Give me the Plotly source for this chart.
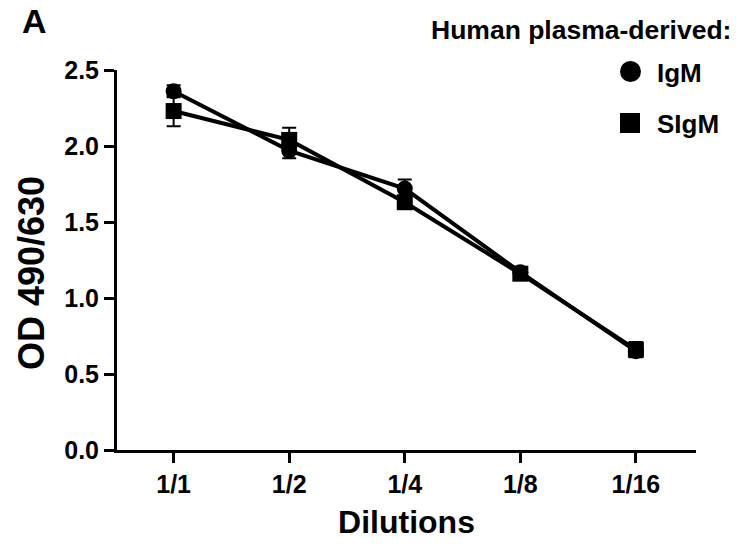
import plotly.graph_objects as go

# Dilution series and measured optical densities (mean ± SEM)
dilutions = ["1/1", "1/2", "1/4", "1/8", "1/16"]
igm_od = [2.36, 1.97, 1.72, 1.17, 0.65]
igm_err = [0.04, 0.05, 0.06, 0.02, 0.03]
sigm_od = [2.23, 2.04, 1.63, 1.16, 0.66]
sigm_err = [0.10, 0.08, 0.03, 0.02, 0.05]

y_ticks = [0.0, 0.5, 1.0, 1.5, 2.0, 2.5]

FONT = "Liberation Sans, Arial, sans-serif"
BLACK = "#000000"

# plot area in pixels: x 117..696, y 70..450
PX_L, PX_R, PX_T, PX_B = 117, 696, 70, 450


def px_x(x):
    return (x - PX_L) / (PX_R - PX_L)


def px_y(y):
    return (PX_B - y) / (PX_B - PX_T)


fig = go.Figure()

series = [
    ("IgM", igm_od, igm_err, "circle"),
    ("SIgM", sigm_od, sigm_err, "square"),
]
for name, vals, errs, symbol in series:
    fig.add_trace(go.Scatter(
        x=dilutions, y=vals, name=name, mode="lines+markers",
        line=dict(color=BLACK, width=4),
        marker=dict(symbol=symbol, size=16, color=BLACK),
        error_y=dict(type="data", array=errs, visible=True,
                     color=BLACK, thickness=2, width=7),
        showlegend=False,
    ))

# Hand-drawn legend at the top right
fig.add_shape(type="circle", xref="paper", yref="paper",
              x0=px_x(620), x1=px_x(641), y0=px_y(82), y1=px_y(61),
              fillcolor=BLACK, line=dict(color=BLACK, width=0))
fig.add_shape(type="rect", xref="paper", yref="paper",
              x0=px_x(620), x1=px_x(640), y0=px_y(133), y1=px_y(113),
              fillcolor=BLACK, line=dict(color=BLACK, width=0))
for label, ypx in (("IgM", 73), ("SIgM", 124)):
    fig.add_annotation(text="<b>%s</b>" % label, xref="paper", yref="paper",
                       x=px_x(655), y=px_y(ypx),
                       xanchor="left", yanchor="middle", showarrow=False,
                       font=dict(family=FONT, size=26, color=BLACK))

fig.add_annotation(text="<b>Human plasma-derived:</b>", xref="paper", yref="paper",
                   x=px_x(733), y=px_y(30),
                   xanchor="right", yanchor="middle", showarrow=False,
                   font=dict(family=FONT, size=26.5, color=BLACK))
fig.add_annotation(text="<b>A</b>", xref="paper", yref="paper",
                   x=px_x(20), y=px_y(21),
                   xanchor="left", yanchor="middle", showarrow=False,
                   font=dict(family=FONT, size=34, color=BLACK))

# Vertical y-axis title
fig.add_annotation(text="<b>OD 490/630</b>", xref="paper", yref="paper",
                   x=px_x(31), y=px_y(273), textangle=-90,
                   xanchor="center", yanchor="middle", showarrow=False,
                   font=dict(family=FONT, size=36, color=BLACK))

fig.update_layout(
    width=736, height=545,
    margin=dict(l=PX_L, r=736 - PX_R, t=PX_T, b=545 - PX_B),
    paper_bgcolor="white", plot_bgcolor="white",
    font=dict(family=FONT, color=BLACK),
    xaxis=dict(
        type="category", range=[-0.49, 4.52],
        showline=True, linecolor=BLACK, linewidth=3,
        ticks="outside", ticklen=10, tickwidth=3, tickcolor=BLACK,
        showgrid=False, zeroline=False,
        tickfont=dict(family=FONT, size=25, color=BLACK),
        tickvals=dilutions, ticktext=["<b>%s</b>" % d for d in dilutions],
        title=dict(text="<b>Dilutions</b>", standoff=14,
                   font=dict(family=FONT, size=32, color=BLACK)),
    ),
    yaxis=dict(
        range=[0, 2.5],
        showline=True, linecolor=BLACK, linewidth=3,
        ticks="outside", ticklen=10, tickwidth=3, tickcolor=BLACK,
        showgrid=False, zeroline=False,
        tickvals=y_ticks, ticktext=["<b>%.1f</b>" % v for v in y_ticks],
        tickfont=dict(family=FONT, size=25, color=BLACK),
    ),
)

fig.write_html("out.html")
